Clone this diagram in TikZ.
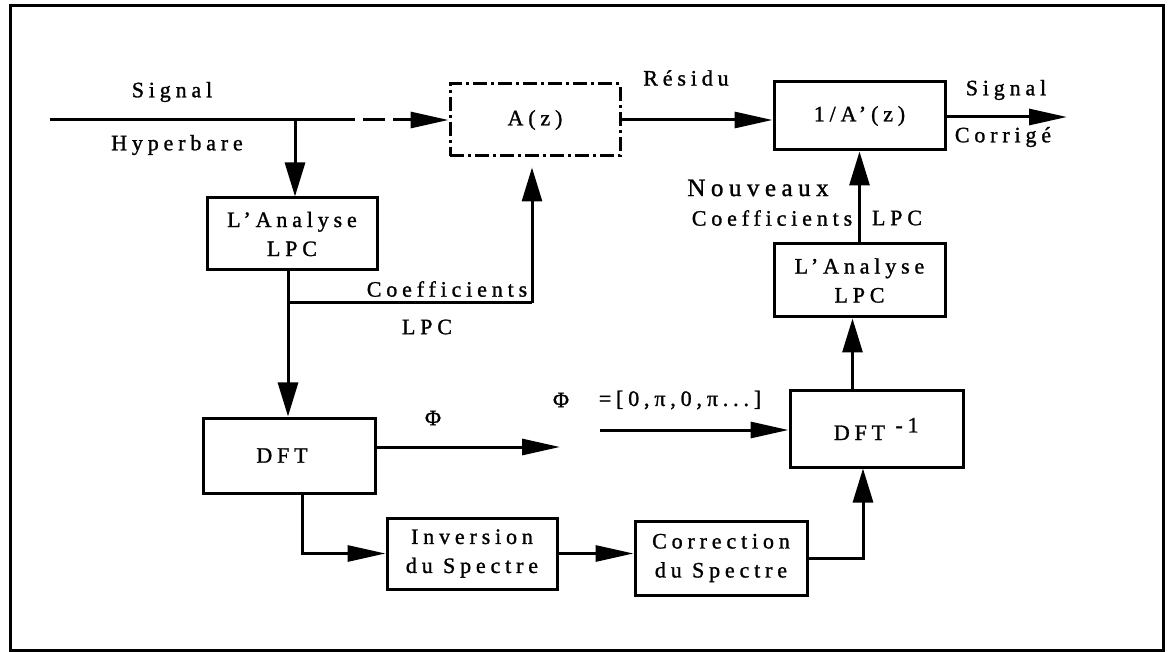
\documentclass[tikz,border=0pt]{standalone}
\usepackage{fontspec}
\setmainfont{Liberation Serif}[LetterSpace=22,FakeBold=1.2]
\usetikzlibrary{arrows.meta,calc}
\newcommand\dfont{\fontsize{22}{29}\selectfont}
\begin{document}
\begin{tikzpicture}[x=1pt,y=-1pt,
  blk/.style={draw,line width=3pt,inner sep=0pt,align=center,font=\dfont},
  ddblk/.style={blk,dash pattern=on 14pt off 4pt on 3pt off 4pt},
  lbl/.style={inner sep=0pt,font=\dfont},
  ln/.style={line width=3pt},
  arr/.style={line width=3pt,-{Triangle[length=38pt,width=16pt]}},
  varr/.style={line width=3pt,-{Triangle[length=34pt,width=20pt]}}]
\useasboundingbox (0,0) rectangle (1168,652);
\node[draw,line width=3pt,minimum width=1153pt,minimum height=644pt,inner sep=0pt] (frame) at (586.5,328) {};
% blocks
\node[ddblk,minimum width=170pt,minimum height=72pt] (az) at (535,120) {A(z)};
\node[blk,minimum width=171pt,minimum height=68pt] (ia) at (859.5,116) {1/A'(z)};
\node[blk,minimum width=170pt,minimum height=72pt] (lpca) at (292,234) {L'Analyse\\LPC};
\node[blk,minimum width=171pt,minimum height=73pt] (lpcb) at (859.5,280.5) {L'Analyse\\LPC};
\node[blk,minimum width=172pt,minimum height=75pt] (dft) at (289,455.5) {DFT\hspace*{14pt}};
\node[blk,minimum width=173pt,minimum height=76pt] (idft) at (876.5,429) {DFT $^{\textrm{-1}}$};
\node[blk,minimum width=170pt,minimum height=71pt] (inv) at (472,553.5) {Inversion\\du Spectre};
\node[blk,minimum width=172pt,minimum height=74pt] (corr) at (721,558) {Correction\\du Spectre};
% coordinates
\coordinate (in) at (50,120);
\coordinate (j1) at (295,120);
\coordinate (dsh) at (333,120);
\coordinate (b1) at (288,303);
\coordinate (cb) at (532,303);
\coordinate (out) at (1067,117);
\coordinate (phiend) at (560,447);
\coordinate (phistart) at (600,430);
% connectors
\draw[ln] (in) -- (dsh);
\draw[arr,dash pattern=on 22pt off 8pt] (dsh) -- (az.west);
\draw[varr] (j1) -- (j1 |- lpca.north);
\draw[varr] (lpca.south -| b1) -- (dft.north -| b1);
\draw[ln] (b1) -- (cb);
\draw[varr,shorten >=10pt] (cb) -- (cb |- az.south);
\draw[arr] (az.east) -- (az.east -| ia.west);
\draw[arr] (ia.east |- out) -- (out);
\draw[varr] (lpcb.north) -- (lpcb.north |- ia.south);
\draw[varr] ([xshift=-24pt]idft.north) -- ([xshift=-24pt]idft.north |- lpcb.south);
\draw[arr] (dft.east |- phiend) -- (phiend);
\draw[arr] (phistart) -- (phistart -| idft.west);
\draw[arr] ([xshift=13pt]dft.south) -- ([xshift=13pt]dft.south |- inv.west) -- (inv.west);
\draw[arr] (inv.east) -- (inv.east -| corr.west);
\draw[varr] (corr.east) -| ([xshift=-13.5pt]idft.south);
% labels
\node[lbl] (l1) at (172,92) {Signal};
\node[lbl] (l2) at (177,145) {Hyperbare};
\node[lbl] (l3) at (686,78) {Résidu};
\node[lbl] (l4) at (1006,90) {Signal};
\node[lbl] (l5) at (1003,137) {Corrigé};
\node[lbl] (l6) at (447,289) {Coefficients};
\node[lbl] (l7) at (427,327) {LPC};
\node[lbl,font=\fontsize{25}{29}\selectfont] (l8) at (758,188) {Nouveaux};
\node[lbl] (l9) at (772,218) {Coefficients};
\node[lbl] (l10) at (897,218) {LPC};
\node[lbl] (l11) at (433,418) {Φ};
\node[lbl] (l12) at (561,400) {Φ};
\node[lbl] (l13) at (680,400) {=[0,π,0,π...]};
\end{tikzpicture}
\end{document}
